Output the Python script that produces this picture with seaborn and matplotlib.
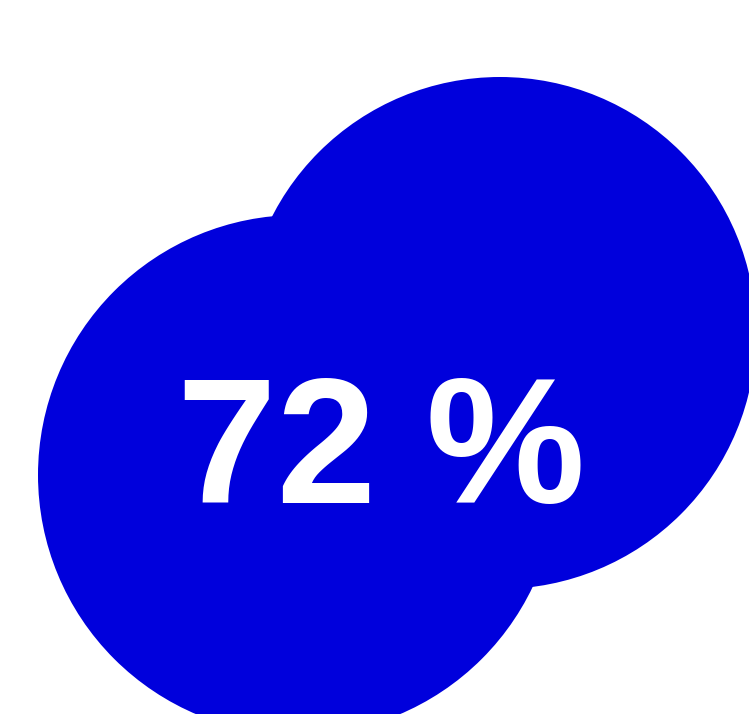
import seaborn as sns
import matplotlib.pyplot as plt
from matplotlib.patches import Circle

sns.set_theme(style="white")
plt.rcParams['font.family'] = ['Liberation Sans', 'DejaVu Sans']

value = 72
label = f"{value} %"
blob_x = [298, 500]
blob_y = [475, 333]
blob_r = [260, 256]
blue = "#0000dc"

fig = plt.figure(figsize=(7.49, 7.14), dpi=100)
ax = fig.add_axes([0, 0, 1, 1])
ax.set_xlim(0, 749)
ax.set_ylim(714, 0)
ax.set_aspect('equal')
ax.axis('off')

for x, y, r in zip(blob_x, blob_y, blob_r):
    ax.add_patch(Circle((x, y), r, color=blue, lw=0))

ax.text(381, 503, label, color="white", fontsize=129, fontweight="bold",
        ha="center", va="baseline")

fig.savefig("out.png", dpi=100)
